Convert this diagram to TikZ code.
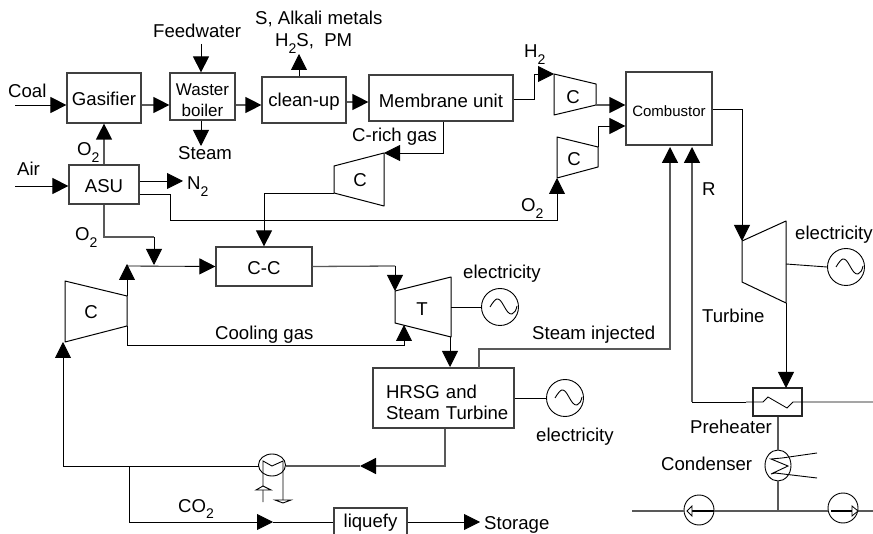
\documentclass[tikz,border=0pt]{standalone}
\usepackage{fontspec}
\setmainfont{Liberation Sans}
\usetikzlibrary{arrows.meta}
\newcommand\sbs[1]{\raisebox{-0.33em}{\fontsize{14}{14}\selectfont #1}}
\newcommand\sinewave[1]{\draw[thin0,shift={(#1)}] (-10,0) .. controls (-7,-5) and (-4,-9) .. (-2,-8) .. controls (3,-7) and (6,8) .. (12,7) .. controls (15,6) and (16,3) .. (17,-1);}
\tikzset{
  x=1pt,y=-1pt,
  thin0/.style={line width=0.9pt,black},
  pipe/.style={line width=0.85pt,black},
  gpipe/.style={line width=1.3pt,black!65},
  arr/.style={-{Triangle[length=16pt,width=16pt,color=black]}},
  box/.style={draw=black!75,line width=1.2pt,inner sep=0pt,font=\fontsize{18.6}{21}\selectfont,align=center},
  bl/.style={text height=12pt+#1 pt,text depth=12pt-#1 pt},
  lab/.style={inner sep=0pt,font=\fontsize{18.6}{21}\selectfont},
  gen/.style={circle,draw=black,line width=0.9pt,minimum size=37pt,inner sep=0pt},
  pump/.style={circle,draw=black,line width=0.9pt,minimum size=30pt,inner sep=0pt},
  comp/.style={line width=1pt,black,line join=round},
}
\begin{document}
\begin{tikzpicture}
\clip (0,0) rectangle (873,534);
% boxes
\node[box,bl=8,minimum width=74pt,minimum height=50pt] (gas) at (104,98) {Gasifier};
\node[box,minimum width=65pt,minimum height=47pt,text width=60pt,font=\fontsize{17}{21}\selectfont] (wb) at (202.5,96.5) {\rule{0pt}{20pt}Waster\\boiler};
\node[box,bl=7,minimum width=84pt,minimum height=46pt] (clean) at (304,100) {clean-up};
\node[box,bl=10,minimum width=144pt,minimum height=46pt] (mem) at (441,98) {Membrane unit};
\node[box,bl=8.5,minimum width=70pt,minimum height=39pt] (asu) at (104,184.5) {ASU};
\node[box,bl=8.5,minimum width=96pt,minimum height=39pt] (cc) at (264,266.5) {C-C};
\node[box,minimum width=141pt,minimum height=60pt,text width=140pt,align=left] (hrsg) at (443.5,398) {\hspace*{12.5pt}\rule{0pt}{22pt}HRSG and\\\hspace*{12.5pt}Steam Turbine};
\node[box,bl=8.5,minimum width=86pt,minimum height=73pt,font=\fontsize{15}{18}\selectfont] (comb) at (669,108.5) {Combustor};
\node[box,bl=4,minimum width=73pt,minimum height=30pt] (liq) at (370.5,523) {liquefy};
\node[box,minimum width=49pt,minimum height=28pt,draw=black!85] (pre) at (777.5,402) {};
% generators
\node[gen] (g1) at (500,307) {}; \sinewave{500,307}
\node[gen] (g2) at (565,398) {}; \sinewave{565,398}
\node[gen] (g3) at (846,267) {}; \sinewave{846,267}
% pumps, exchangers
\node[pump] (p1) at (699,510) {};
\node[pump] (p2) at (843,508) {};
\draw[thin0] (272,465) ellipse [x radius=13.5,y radius=11];
\coordinate (xw) at (258.5,466); \coordinate (xe) at (285.5,466);
\draw[thin0] (778,465.5) ellipse [x radius=13,y radius=15.5];
\coordinate (cdt) at (778,450); \coordinate (cdb) at (778,481);
% compressors and turbines
\coordinate (c1a) at (554,74); \coordinate (c1b) at (596,84); \coordinate (c1c) at (596,105); \coordinate (c1d) at (554,115);
\draw[comp] (c1a)--(c1b)--(c1c)--(c1d)--cycle;
\node[lab] (c1) at (573,97) {C};
\coordinate (c2a) at (557,137); \coordinate (c2b) at (598,147); \coordinate (c2c) at (598,167); \coordinate (c2d) at (557,178);
\draw[comp] (c2a)--(c2b)--(c2c)--(c2d)--cycle;
\node[lab] (c2) at (574,159) {C};
\coordinate (c3a) at (334,166); \coordinate (c3b) at (384,153); \coordinate (c3c) at (384,206); \coordinate (c3d) at (334,193);
\draw[comp] (c3a)--(c3b)--(c3c)--(c3d)--cycle;
\node[lab] (c3) at (360,180) {C};
\coordinate (c4a) at (65,281); \coordinate (c4b) at (127,296); \coordinate (c4c) at (127,326); \coordinate (c4d) at (65,342);
\draw[comp] (c4a)--(c4b)--(c4c)--(c4d)--cycle;
\node[lab] (c4) at (91,312) {C};
\coordinate (t1a) at (395,291); \coordinate (t1b) at (451,277); \coordinate (t1c) at (451,337); \coordinate (t1d) at (395,323);
\draw[comp] (t1a)--(t1b)--(t1c)--(t1d)--cycle;
\node[lab] (t1) at (422,309) {T};
\coordinate (t2a) at (742,241); \coordinate (t2b) at (786,221); \coordinate (t2c) at (786,303); \coordinate (t2d) at (742,282);
\draw[comp] (t2a)--(t2b)--(t2c)--(t2d)--cycle;
% free ends
\coordinate (coal) at (15,105); \coordinate (air) at (15,186); \coordinate (fw) at (201,44);
\coordinate (stm) at (201,146); \coordinate (imp) at (299,54); \coordinate (n2) at (183,181);
\coordinate (stor) at (480,522);
% top line
\draw[pipe,arr] (coal) -- (gas.west |- coal);
\draw[gpipe,arr] (gas.east |- 0,105) -- (wb.west |- 0,105);
\draw[gpipe,arr] (wb.east |- 0,105) -- (clean.west |- 0,105);
\draw[gpipe,arr] (clean.east |- 0,102) -- (mem.west |- 0,102);
\draw[pipe,arr] (fw) -- (wb.north -| fw);
\draw[pipe,arr] (wb.south -| stm) -- (stm);
\draw[pipe,arr] (clean.north -| imp) -- (imp);
\draw[gpipe,arr] (asu.north) -- (gas.south -| asu.north);
\draw[pipe,arr] (air) -- (asu.west |- air);
\draw[pipe,arr] (asu.east |- n2) -- (n2);
% membrane outlets
\draw[pipe,arr] (mem.east |- 0,99) -- (534,99) -- (534,74) -- (c1a);
\draw[gpipe,arr] (c1c) -- (comb.west |- c1c);
\draw[pipe,arr] (c2b) -- (598,126) -- (comb.west |- 0,126);
\draw[pipe,arr] (mem.south -| 443,0) -- (443,153) -- (c3b);
\draw[pipe,arr] (c3d) -- (264,193) -- (cc.north);
% ASU oxygen to compressor
\draw[pipe,arr] (asu.east |- 0,194) -- (170,194) -- (170,220) -- (557,220) -- (c2d);
% ASU to C-C loop
\draw[gpipe] (asu.south) -- (104,237) -- (154,237);
\draw[pipe,arr] (154,237) -- (154,265);
\draw[pipe,arr] (127,296) -- (c4b |- 0,264);
\draw[pipe,arr] (127,266) -- (cc.west);
\draw[gpipe] (cc.east) -- (395,266);
\draw[pipe,arr] (395,266) -- (t1a);
\draw[pipe,arr] (c4c) -- (127,345) -- (404,345) -- (404,325);
% turbine outlets
\draw[pipe,arr] (450,337) -- (450,367);
\draw[thin0] (451,307) -- (g1.west);
\draw[thin0] (hrsg.east) -- (g2.west);
\draw[gpipe,arr] (479,368) -- (479,349) -- (670,349) -- (670,147);
\draw[gpipe,arr] (692,402) -- (692,147);
\draw[pipe,arr] (comb.east |- 0,109) -- (742,109) -- (t2a);
\draw[thin0] (786,264) -- (g3.west);
\draw[pipe,arr] (t2c) -- (786,388);
% preheater
\draw[pipe] (692,402) -- (746,402);
\draw[pipe] (746,402) -- (763,402) -- (768,397) -- (787,408) -- (793,402) -- (873,402);
\draw[gpipe] (pre.south -| 778,0) -- (cdt);
\draw[gpipe] (cdb) -- (778,511);
\draw[gpipe] (632,511) -- (p1.west |- 0,511);
\draw[gpipe] (p1.east |- 0,511) -- (p2.west |- 0,511);
\draw[gpipe] (p2.east |- 0,511) -- (873,511);
\draw[line width=1.2pt] (714,511) -- (692,511);
\draw[line width=0.8pt,fill=white] (687,511) -- (692,506) -- (692,516) -- cycle;
\draw[line width=1.4pt] (831,511) -- (852,511);
\draw[line width=0.8pt,fill=white] (858,511) -- (852,506) -- (852,516) -- cycle;
% condenser
\draw[thin0] (817,453) -- (782,458) -- (771,459) -- (788,466) -- (771,474) -- (775,473) -- (817,478);
% bottom loop
\draw[gpipe] (hrsg.south -| 445,0) -- (445,466) -- (375,466);
\draw[gpipe,arr] (375,466) -- (360,466);
\draw[gpipe] (360,466) -- (xe);
\draw[pipe,arr] (xw) -- (63,466) -- (c4d -| 63,0);
\draw[pipe] (129,466) -- (129,522) -- (257,522);
\draw[pipe,arr] (257,522) -- (273,522);
\draw[pipe] (273,522) -- (liq.west |- 0,522);
\draw[pipe,arr] (liq.east |- 0,522) -- (stor);
% exchanger internals
\draw[thin0] (263,502) -- (263,461) -- (272,466) -- (283,461) -- (283,502);
\draw[thin0,fill=white] (256,490) -- (263,486) -- (271,490) -- cycle;
\draw[thin0,fill=white] (275,500) -- (283,503) -- (291,500) -- cycle;
% labels
\node[lab,anchor=base west] (tcoal) at (8,98) {Coal};
\node[lab,anchor=base west] (tair) at (17,176) {Air};
\node[lab,anchor=base west] (tfw) at (153,38) {Feedwater};
\node[lab,anchor=base west] (ts) at (255,25) {S, Alkali metals};
\node[lab,anchor=base west] (th2s) at (275,47) {H\sbs{2}S,\ \ PM};
\node[lab,anchor=base west] (tsteam) at (178,160) {Steam};
\node[lab,anchor=base west] (to2a) at (77,156) {O\sbs{2}};
\node[lab,anchor=base west] (tn2) at (187,190) {N\sbs{2}};
\node[lab,anchor=base west] (to2b) at (75,241) {O\sbs{2}};
\node[lab,anchor=base west] (trich) at (352,142) {C-rich gas};
\node[lab,anchor=base west] (th2) at (524,58) {H\sbs{2}};
\node[lab,anchor=base west] (to2c) at (521,212) {O\sbs{2}};
\node[lab,anchor=base west] (tr) at (702,196) {R};
\node[lab,anchor=base west] (te3) at (795,240) {electricity};
\node[lab,anchor=base west] (te1) at (463,279) {electricity};
\node[lab,anchor=base west] (te2) at (536,442) {electricity};
\node[lab,anchor=base west] (ttur) at (702,323) {Turbine};
\node[lab,anchor=base west] (tcool) at (215,340) {Cooling gas};
\node[lab,anchor=base west] (tinj) at (532,340) {Steam injected};
\node[lab,anchor=base west] (tpre) at (690,434) {Preheater};
\node[lab,anchor=base west] (tcond) at (661,470) {Condenser};
\node[lab,anchor=base west] (tco2) at (178,512) {CO\sbs{2}};
\node[lab,anchor=base west] (tstor) at (484,529.5) {Storage};
\end{tikzpicture}
\end{document}
